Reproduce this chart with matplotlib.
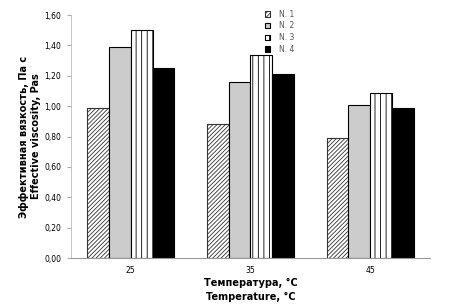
import matplotlib.pyplot as plt
import numpy as np
from matplotlib.ticker import FuncFormatter

# data
temps = ["25", "35", "45"]
series_names = ["N. 1", "N. 2", "N. 3", "N. 4"]
n1 = [0.99, 0.88, 0.79]
n2 = [1.39, 1.16, 1.01]
n3 = [1.50, 1.34, 1.09]
n4 = [1.25, 1.21, 0.99]

plt.rcParams["font.family"] = ["DejaVu Sans"]
plt.rcParams["hatch.linewidth"] = 0.6

fig = plt.figure(figsize=(4.55, 3.08), dpi=100)
ax = fig.add_axes([0.156, 0.162, 0.789, 0.789])

x = np.arange(len(temps))
w = 0.182
styles = [
    dict(color="white", hatch="////////", edgecolor="#333333"),
    dict(color="#cccccc", edgecolor="black"),
    dict(color="white", hatch="|||", edgecolor="black"),
    dict(color="black", edgecolor="black"),
]
for i, (vals, st) in enumerate(zip([n1, n2, n3, n4], styles)):
    ax.bar(x + (i - 1.5) * w, vals, w, label=series_names[i], linewidth=0.8, **st)

ax.set_xlim(-0.5, 2.5)
ax.set_ylim(0, 1.6)
ax.set_yticks(np.arange(0, 1.61, 0.2))
ax.yaxis.set_major_formatter(FuncFormatter(lambda v, p: f"{v:.2f}".replace(".", ",")))
ax.set_xticks(x)
ax.set_xticklabels(temps)
ax.tick_params(axis="both", labelsize=5.5, length=0, pad=6)
ax.tick_params(axis="y", length=3, direction="out", color="#aaaaaa", pad=4)

for s in ["top", "right"]:
    ax.spines[s].set_visible(False)
ax.spines["left"].set_color("#bbbbbb")
ax.spines["bottom"].set_color("#999999")
ax.spines["left"].set_linewidth(0.6)
ax.spines["bottom"].set_linewidth(0.8)

ax.set_xlabel("Температура, °C\nTemperature, °C", fontsize=7, fontweight="bold", labelpad=2,
              linespacing=1.5)
ax.set_ylabel("Эффективная вязкость, Па с\nEffective viscosity, Pas", fontsize=7,
              fontweight="bold", labelpad=2, linespacing=1.3)

leg = ax.legend(loc="upper left", bbox_to_anchor=(0.52, 1.05), frameon=False, fontsize=5.5,
                handlelength=0.7, handleheight=0.7, handletextpad=1.2, labelspacing=0.35)
for t in leg.get_texts():
    t.set_color("#555555")

fig.savefig("out.png", dpi=100)
